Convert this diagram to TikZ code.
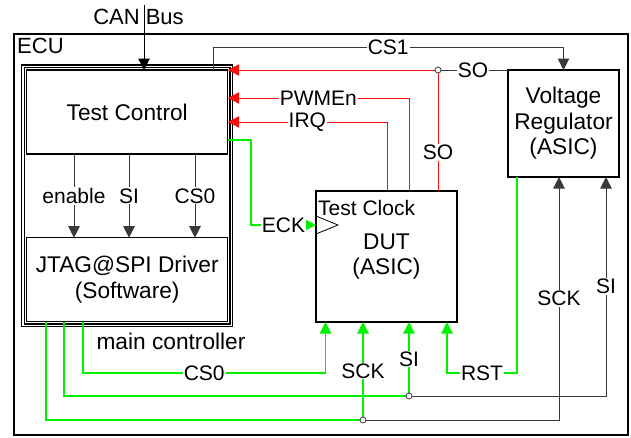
\documentclass[tikz,border=0pt]{standalone}
\usepackage{fontspec}
\setmainfont{Liberation Sans}
\usetikzlibrary{arrows.meta,calc}
\definecolor{sigc}{HTML}{3A3A3A}
\definecolor{grnc}{HTML}{00F000}
\definecolor{redc}{HTML}{FF1010}
\begin{document}
\begin{tikzpicture}[x=1pt,y=-1pt,
  boxfont/.style={font=\fontsize{22.7}{25.5}\selectfont},
  labfont/.style={font=\fontsize{21}{24}\selectfont},
  blk/.style={draw=black, inner sep=0pt, outer sep=0pt, align=center, boxfont},
  sig/.style={color=sigc, line width=1pt},
  redl/.style={color=redc, line width=1pt},
  grnl/.style={color=grnc, line width=1.2pt},
  arr/.style={-{Triangle[length=11.5pt,width=11.5pt]}},
  lab/.style={fill=white, inner sep=1pt, labfont},
  junc/.style={draw=sigc, fill=white, line width=0.8pt}
]
\useasboundingbox (0,0) rectangle (631,437);

% boxes
\node[blk, line width=2pt, minimum width=614pt, minimum height=401pt] (ecu) at (320.5,234) {};
\node[anchor=base west, font=\fontsize{22}{24}\selectfont, inner sep=0pt] (ecul) at (17,53) {ECU};
\node[blk, double, line width=1.2pt, double distance=1.3pt, minimum width=208.3pt, minimum height=259pt] (mc) at (127.05,195.8) {};
\node[blk, line width=1.3pt, minimum width=201pt, minimum height=84pt] (tc) at (127.2,112) {Test Control};
\node[blk, line width=1.3pt, minimum width=201pt, minimum height=84pt] (jtag) at (127.2,279.7) {JTAG@SPI Driver\\(Software)};
\node[blk, line width=2pt, minimum width=111pt, minimum height=107pt] (vr) at (563.5,123.5) {Voltage\\Regulator\\(ASIC)};
\node[blk, line width=2pt, minimum width=141pt, minimum height=131pt] (dut) at (386.5,256.5) {DUT\\(ASIC)};
\node[boxfont, inner sep=0pt] (mcl) at (171,341) {main controller};
\node[anchor=base west, labfont, inner sep=0pt] (tclk) at (318,215) {Test Clock};
\node[font=\fontsize{22}{24}\selectfont, inner sep=0pt] (canl) at (138.5,17) {CAN Bus};

% coordinates
\coordinate (can) at (144,5);
\coordinate (cs1) at (213,47);
\coordinate (soj) at (438,70);
\coordinate (pw) at (409,98);
\coordinate (irq) at (387,122);
\coordinate (en) at (74,196);
\coordinate (si) at (129,196);
\coordinate (cs0) at (195,196);
\coordinate (eck) at (251,140);
\coordinate (clk) at (316,225);
\coordinate (c0) at (83,373);
\coordinate (c0d) at (325.5,373);
\coordinate (si0) at (64,396);
\coordinate (sij) at (409,396);
\coordinate (sir) at (606,396);
\coordinate (sk0) at (46,420);
\coordinate (skj) at (363,420);
\coordinate (skr) at (559,420);
\coordinate (rstr) at (517,373);
\coordinate (rstl) at (447,373);

% clock triangle
\draw[line width=0.8pt] ($(clk)+(0,-9)$) -- ($(clk)+(22,0)$) -- ($(clk)+(0,9)$);

% CAN bus
\draw[color=black, line width=1pt, arr] (can) -- (can |- tc.north);

% CS1
\draw[sig, arr] (cs1 |- tc.north) -- (cs1) -- (cs1 -| vr.north) -- (vr.north);

% SO
\draw[sig] (vr.north west) -- (soj);
\draw[redl, arr] (soj) -- (soj -| tc.east);
\draw[redl] (soj) -- (soj |- dut.north);

% PWMEn, IRQ
\draw[redl, arr] (pw |- dut.north) -- (pw) -- (pw -| tc.east);
\draw[redl, arr] (irq |- dut.north) -- (irq) -- (irq -| tc.east);

% enable, SI, CS0
\draw[sig, arr] (en |- tc.south) -- (en |- jtag.north);
\draw[sig, arr] (si |- tc.south) -- (si |- jtag.north);
\draw[sig, arr] (cs0 |- tc.south) -- (cs0 |- jtag.north);

% ECK
\draw[grnl, arr] (eck -| tc.east) -- (eck) -- (eck |- clk) -- (clk);

% CS0 to DUT
\draw[grnl, arr] (c0 |- jtag.south) -- (c0) -- (c0d) -- (c0d |- dut.south);

% SI
\draw[grnl] (si0 |- jtag.south) -- (si0) -- (sij);
\draw[sig, arr] (sij) -- (sir) -- (sir |- vr.south);
\draw[grnl, arr] (sij) -- (sij |- dut.south);

% SCK
\draw[grnl] (sk0 |- jtag.south) -- (sk0) -- (skj);
\draw[sig, arr] (skj) -- (skr) -- (skr |- vr.south);
\draw[grnl, arr] (skj) -- (skj |- dut.south);

% RST
\draw[grnl, arr] (rstr |- vr.south) -- (rstr) -- (rstl) -- (rstl |- dut.south);

% junctions
\draw[junc] (soj) circle (3pt);
\draw[junc] (sij) circle (3pt);
\draw[junc] (skj) circle (3pt);

% labels
\node[lab] (lcs1) at ($(cs1)!0.5!(cs1 -| vr.north)$) {CS1};
\node[lab] (lso1) at ($(soj)!0.5!(vr.north west)$) {SO};
\node[lab] (lso2) at ($(soj)!0.68!(soj |- dut.north)$) {SO};
\node[lab] (lpw) at ($(pw)!0.5!(pw -| tc.east)$) {PWMEn};
\node[lab] (lirq) at ($(irq)!0.5!(irq -| tc.east)$) {IRQ};
\node[lab] (len) at ($(en |- tc.south)!0.5!(en |- jtag.north)$) {enable};
\node[lab] (lsi) at ($(si |- tc.south)!0.5!(si |- jtag.north)$) {SI};
\node[lab] (lcs0) at ($(cs0 |- tc.south)!0.5!(cs0 |- jtag.north)$) {CS0};
\node[lab] (leck) at ($(eck |- clk)!0.5!(clk)$) {ECK};
\node[lab] (lcs0b) at ($(c0)!0.5!(c0d)$) {CS0};
\node[lab] (lsir) at ($(sir)!0.5!(sir |- vr.south)$) {SI};
\node[lab] (lsid) at ($(sij)!0.5!(sij |- dut.south)$) {SI};
\node[lab] (lskr) at ($(skr)!0.5!(skr |- vr.south)$) {SCK};
\node[lab] (lskd) at ($(skj)!0.5!(skj |- dut.south)$) {SCK};
\node[lab] (lrst) at ($(rstr)!0.5!(rstl)$) {RST};
\end{tikzpicture}
\end{document}
